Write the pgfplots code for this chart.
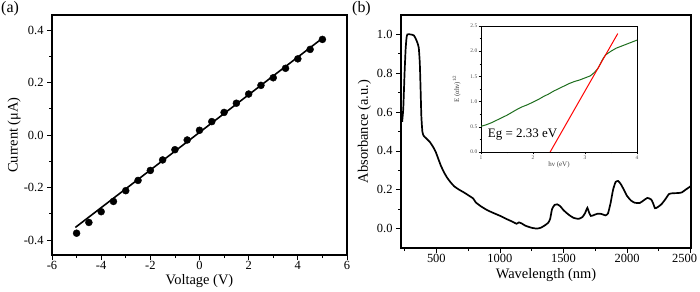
\documentclass[border=0pt]{standalone}
\usepackage{fontspec}
\setmainfont{Liberation Serif}
\usepackage{pgfplots}
\pgfplotsset{compat=1.18}
\definecolor{dgreen}{RGB}{30,110,30}
\begin{document}
\begin{tikzpicture}
\pgfplotsset{
  myaxis/.style={
    scale only axis, axis line style={line width=1.1pt},
    tick align=outside, tick pos=left,
    major tick length=5bp, minor tick length=3bp,
    every tick/.style={line width=0.8pt, black},
    /pgf/number format/assume math mode=true,
    ticklabel style={font=\fontsize{12.5}{14}\selectfont},
    xticklabel style={inner sep=1pt},
  }
}
\path[use as bounding box] (-52bp,-37bp) rectangle (648bp,255bp);
% Panel (a)
\begin{axis}[myaxis, at={(0bp,0bp)}, anchor=south west, width=295bp, height=240bp,
  xmin=-6, xmax=6, ymin=-0.457, ymax=0.457,
  xtick={-6,-4,...,6}, minor xtick={-5,-3,...,5},
  ytick={-0.4,-0.2,0,0.2,0.4}, minor ytick={-0.3,-0.1,0.1,0.3},
  yticklabel style={/pgf/number format/.cd, fixed, fixed zerofill, precision=1},
  xlabel={Voltage (V)}, ylabel={Current (μA)},
  every axis x label/.style={at={(axis description cs:0.5,-0.108)}, anchor=center, font=\fontsize{14.5}{16}\selectfont},
  every axis y label/.style={at={(axis description cs:-0.128,0.5)}, anchor=center, rotate=90, font=\fontsize{14.5}{16}\selectfont},
]
\addplot[black, line width=1.6pt] coordinates {(-5.05,-0.352) (5.05,0.372)};
\addplot[only marks, mark=*, mark size=3.5bp, black] coordinates {
(-5,-0.374) (-4.5,-0.333) (-4,-0.292) (-3.5,-0.253) (-3,-0.212) (-2.5,-0.173)
(-2,-0.135) (-1.5,-0.095) (-1,-0.056) (-0.5,-0.019) (0,0.018) (0.5,0.051)
(1,0.086) (1.5,0.121) (2,0.156) (2.5,0.189) (3,0.218) (3.5,0.254) (4,0.29)
(4.5,0.326) (5,0.364)};
\end{axis}
\node[anchor=north west, inner sep=0pt, font=\fontsize{16}{18}\selectfont] at (-51bp,254bp) {(a)};
% Panel (b)
\begin{axis}[myaxis, at={(349bp,7bp)}, anchor=south west, width=290bp, height=233bp,
  xmin=222, xmax=2503, ymin=-0.1, ymax=1.1,
  xtick={500,1000,1500,2000,2500}, minor xtick={250,750,...,2250},
  xticklabels={500,1000,1500,2000,{\hspace*{-12bp}2500}},
  ytick={0,0.2,...,1.0}, minor ytick={0.1,0.3,...,0.9},
  yticklabel style={/pgf/number format/.cd, fixed, fixed zerofill, precision=1},
  xlabel={Wavelength (nm)}, ylabel={Absorbance (a.u.)},
  every axis x label/.style={at={(axis description cs:0.5,-0.118)}, anchor=center, font=\fontsize{14.5}{16}\selectfont},
  every axis y label/.style={at={(axis description cs:-0.126,0.5)}, anchor=center, rotate=90, font=\fontsize{14.5}{16}\selectfont},
]
\addplot[black, line width=1.7pt, smooth, tension=0.3] coordinates {
(231,0.55) (240,0.62) (250,0.80) (258,0.92) (265,0.98) (272,1.0) (297,1.0)
(323,0.995) (340,0.975) (352,0.955) (362,0.93) (370,0.85) (376,0.72) (382,0.58)
(390,0.50) (400,0.478) (420,0.465) (450,0.445) (475,0.42) (495,0.395) (515,0.36)
(535,0.325) (560,0.29) (585,0.262) (610,0.24) (640,0.218) (680,0.20) (720,0.185)
(760,0.168) (790,0.155) (810,0.135) (850,0.115) (900,0.095) (950,0.08) (1000,0.066)
(1050,0.05) (1100,0.035) (1130,0.025) (1150,0.032) (1170,0.027) (1200,0.015)
(1250,0.004) (1290,0.0) (1320,0.004) (1350,0.015) (1380,0.03) (1395,0.05)
(1410,0.10) (1430,0.122) (1450,0.125) (1475,0.115) (1500,0.095) (1540,0.072)
(1580,0.055) (1620,0.05) (1650,0.06) (1670,0.08) (1688,0.107) (1700,0.085)
(1715,0.065) (1740,0.07) (1770,0.077) (1800,0.075) (1830,0.068) (1850,0.078)
(1870,0.13) (1890,0.20) (1910,0.24) (1930,0.245) (1950,0.23) (1975,0.2)
(2000,0.168) (2030,0.145) (2060,0.133) (2100,0.132) (2130,0.145) (2160,0.158)
(2190,0.15) (2205,0.13) (2220,0.105) (2240,0.11) (2270,0.125) (2300,0.15)
(2330,0.178) (2360,0.182) (2400,0.183) (2430,0.186) (2460,0.2) (2500,0.218)};
\end{axis}
\node[anchor=north west, inner sep=0pt, font=\fontsize{16}{18}\selectfont] at (300bp,254bp) {(b)};
% Inset
\begin{axis}[scale only axis, at={(429bp,103bp)}, anchor=south west, width=156bp, height=126bp,
  axis line style={line width=0.8pt}, tick align=outside, tick pos=left,
  major tick length=2.5bp, minor tick length=1.5bp,
  every tick/.style={line width=0.5pt, black},
  xmin=1, xmax=4, ymin=0, ymax=2.5,
  xtick={1,2,3,4}, minor xtick={1.5,2.5,3.5},
  ytick={0,0.5,...,2.5}, minor ytick={0.25,0.75,...,2.25},
  /pgf/number format/assume math mode=true,
  ticklabel style={font=\fontsize{5.5}{6}\selectfont, text=black!70, inner sep=1pt},
  yticklabel style={/pgf/number format/.cd, fixed, fixed zerofill, precision=1},
  xlabel={hν (eV)}, ylabel={E (αhν)\textsuperscript{1/2}},
  every axis x label/.style={at={(axis description cs:0.5,-0.103)}, anchor=center, font=\fontsize{7}{8}\selectfont, text=black!75},
  every axis y label/.style={at={(axis description cs:-0.155,0.5)}, anchor=center, rotate=90, font=\fontsize{7}{8}\selectfont, text=black!75},
]
\addplot[dgreen, line width=1pt] coordinates {
(1.0,0.51) (1.1,0.54) (1.2,0.58) (1.3,0.63) (1.4,0.68) (1.5,0.73) (1.6,0.79)
(1.7,0.85) (1.8,0.9) (1.9,0.94) (2.0,0.99) (2.1,1.04) (2.2,1.1) (2.3,1.15)
(2.4,1.21) (2.5,1.26) (2.6,1.31) (2.7,1.36) (2.8,1.4) (2.9,1.43) (3.0,1.47)
(3.1,1.51) (3.15,1.55) (3.2,1.6) (3.25,1.66) (3.3,1.76) (3.35,1.86) (3.4,1.93)
(3.5,2.0) (3.6,2.06) (3.7,2.1) (3.8,2.14) (3.9,2.18) (4.0,2.22)};
\addplot[red, line width=1pt] coordinates {(2.33,0) (3.63,2.35)};
\node[anchor=west, inner sep=0pt, font=\fontsize{13}{14}\selectfont] at (axis cs:1.13,0.34) {Eg = 2.33 eV};
\end{axis}
\end{tikzpicture}
\end{document}
